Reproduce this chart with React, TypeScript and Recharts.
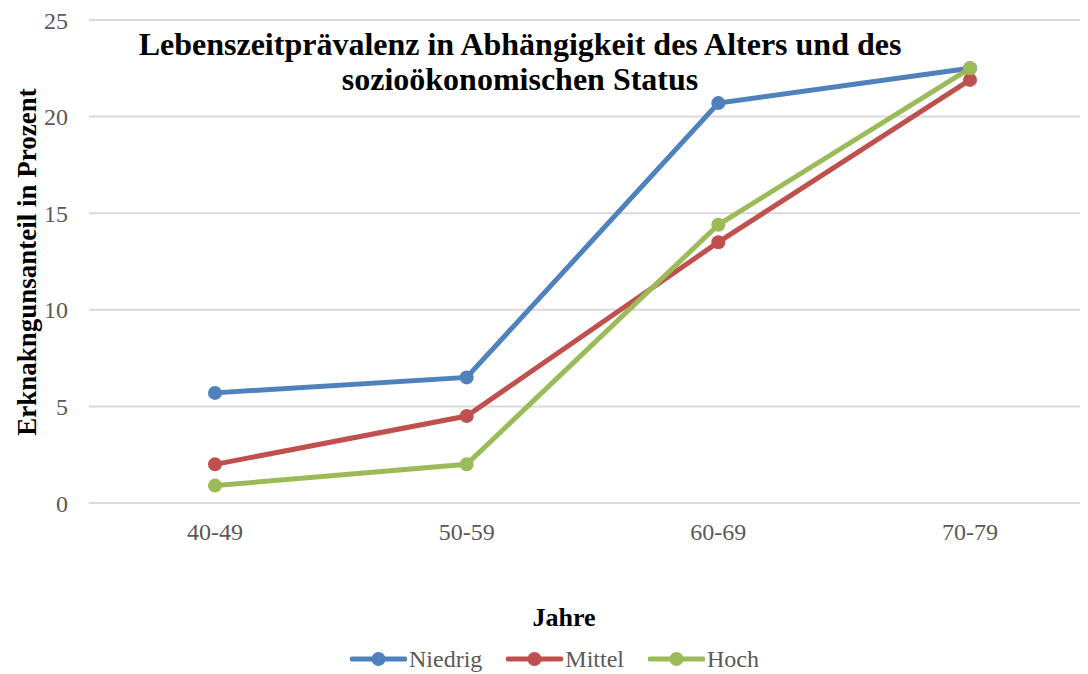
import React from "react";
import { LineChart, Line, XAxis, YAxis, CartesianGrid } from "recharts";

const categories = ["40-49", "50-59", "60-69", "70-79"];
const niedrig = [5.7, 6.5, 20.7, 22.5];
const mittel = [2.0, 4.5, 13.5, 21.9];
const hoch = [0.9, 2.0, 14.4, 22.5];
const yTicks = [0, 5, 10, 15, 20, 25];

const series = [
  { key: "Niedrig", values: niedrig, color: "#4F81BD" },
  { key: "Mittel", values: mittel, color: "#C0504D" },
  { key: "Hoch", values: hoch, color: "#9BBB59" },
];

const data = categories.map((c, i) => {
  const row: Record<string, string | number> = { cat: c };
  series.forEach((s) => (row[s.key] = s.values[i]));
  return row;
});

const FONT = '"Liberation Serif", "Times New Roman", serif';

export default function App() {
  return (
    <div
      style={{
        position: "relative",
        width: 1088,
        height: 674,
        marginLeft: -8,
        marginTop: -8,
        overflow: "hidden",
        background: "#fff",
        fontFamily: FONT,
      }}
    >
      <LineChart
        width={1100}
        height={674}
        data={data}
        margin={{ top: 20, right: 4, bottom: 141, left: 0 }}
      >
        <CartesianGrid vertical={false} stroke="#d9d9d9" strokeWidth={2} />
        <XAxis
          dataKey="cat"
          axisLine={false}
          tickLine={false}
          tickSize={0}
          tickMargin={20}
          height={30}
          padding={{ left: 126, right: 126 }}
          tick={{ fill: "#595959", fontSize: 24, fontFamily: FONT }}
        />
        <YAxis
          domain={[0, 25]}
          ticks={yTicks}
          width={89}
          axisLine={false}
          tickLine={false}
          tickSize={0}
          tickMargin={21}
          tick={{ fill: "#595959", fontSize: 24, fontFamily: FONT }}
        />
        {series.map((s) => (
          <Line
            key={s.key}
            dataKey={s.key}
            type="linear"
            stroke={s.color}
            strokeWidth={5}
            dot={{ r: 7, fill: s.color, stroke: "none" }}
            isAnimationActive={false}
          />
        ))}
      </LineChart>

      <div
        style={{
          position: "absolute",
          left: 0,
          top: 27,
          width: 1040,
          textAlign: "center",
          fontWeight: "bold",
          fontSize: 32,
          lineHeight: "35px",
          color: "#000",
        }}
      >
        Lebenszeitprävalenz in Abhängigkeit des Alters und des
        <br />
        sozioökonomischen Status
      </div>

      <div
        style={{
          position: "absolute",
          left: 27,
          top: 262,
          transform: "translate(-50%, -50%) rotate(-90deg)",
          whiteSpace: "nowrap",
          fontWeight: "bold",
          fontSize: 27,
          color: "#000",
        }}
      >
        Erknakngunsanteil in Prozent
      </div>

      <div
        style={{
          position: "absolute",
          left: 564,
          top: 618,
          transform: "translate(-50%, -50%)",
          fontWeight: "bold",
          fontSize: 26,
          color: "#000",
        }}
      >
        Jahre
      </div>

      <div
        style={{
          position: "absolute",
          left: 350,
          top: 659,
          transform: "translateY(-50%)",
          display: "flex",
          alignItems: "center",
          gap: 24,
        }}
      >
        {series.map((s) => (
          <div key={s.key} style={{ display: "flex", alignItems: "center" }}>
            <svg width={57} height={16}>
              <line x1={2} y1={8} x2={55} y2={8} stroke={s.color} strokeWidth={5} strokeLinecap="round" />
              <circle cx={28.5} cy={8} r={7} fill={s.color} />
            </svg>
            <span style={{ marginLeft: 2, fontSize: 24, color: "#595959", lineHeight: "20px" }}>{s.key}</span>
          </div>
        ))}
      </div>
    </div>
  );
}
